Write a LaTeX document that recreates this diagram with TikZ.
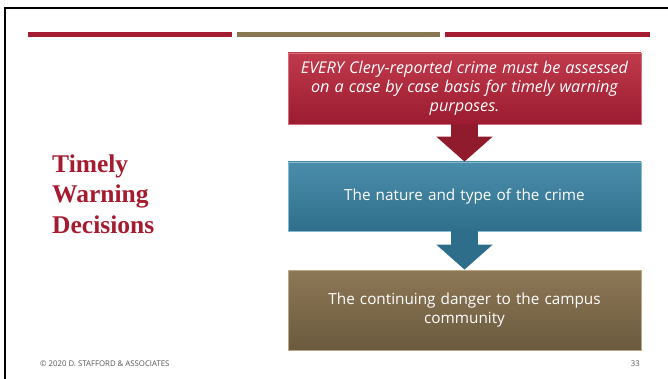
\documentclass[tikz,border=0pt]{standalone}
\usepackage{fontspec}
\setmainfont{Liberation Serif}
\setsansfont{Open Sans}
\usepackage{tikz}
\usetikzlibrary{arrows.meta, positioning}
\definecolor{BarRed}{HTML}{A51C30}
\definecolor{BarBrown}{HTML}{8B7653}
\definecolor{RedTop}{HTML}{BF3A4B}
\definecolor{RedBot}{HTML}{9C1B30}
\definecolor{RedEdge}{HTML}{D4707E}
\definecolor{BlueTop}{HTML}{4A8DAA}
\definecolor{BlueBot}{HTML}{2F6F8C}
\definecolor{BlueEdge}{HTML}{86B9CE}
\definecolor{BrownTop}{HTML}{8D7856}
\definecolor{BrownBot}{HTML}{6B5A3E}
\definecolor{BrownEdge}{HTML}{BBA886}
\definecolor{ArrowRed}{HTML}{8F1B2D}
\definecolor{ArrowBlue}{HTML}{2E6E8A}
\definecolor{FootGray}{HTML}{555555}

\begin{document}
\begin{tikzpicture}[x=1pt, y=-1pt,
  step_box/.style={rectangle, minimum width=353pt, inner sep=4pt, text width=345pt, align=center,
    text=white, font=\sffamily\fontsize{15.3}{19}\selectfont, line width=0.8pt},
  red_box/.style={step_box, top color=RedTop, bottom color=RedBot, draw=RedEdge},
  blue_box/.style={step_box, top color=BlueTop, bottom color=BlueBot, draw=BlueEdge},
  brown_box/.style={step_box, top color=BrownTop, bottom color=BrownBot, draw=BrownEdge},
  block_arrow/.style={line width=27pt, -{Triangle[width=55pt, length=25pt]}},
  foot_text/.style={font=\sffamily\fontsize{7.8}{9}\selectfont, text=FootGray, inner sep=0pt},
]
  \useasboundingbox (0,0) rectangle (668,379);
  \fill[white] (0,0) rectangle (668,379);
  \draw[line width=2pt, black] (4.5,379) -- (4.5,8) -- (668,8);
  \foreach \xa/\xb/\col in {28/232/BarRed, 237/440/BarBrown, 445/650/BarRed}
    \fill[\col] (\xa,32) rectangle (\xb,37.5);

  \node[font=\bfseries\fontsize{25.5}{30.5}\selectfont, text=BarRed, align=left, anchor=west, inner sep=0pt]
    (title) at (52,194) {Timely\\Warning\\Decisions};

  \node[red_box, minimum height=71pt] (every) at (464.5,88.5)
    {\fontsize{16.2}{19}\selectfont\itshape EVERY Clery-reported crime must be assessed\\on a case by case basis for timely warning\\purposes.};
  \node[blue_box, minimum height=69pt] (nature) at (464.5,196.5) {The nature and type of the crime};
  \node[brown_box, minimum height=80pt] (danger) at (464.5,310)
    {The continuing danger to the campus\\community};

  \draw[block_arrow, ArrowRed] (every.south) -- (nature.north);
  \draw[block_arrow, ArrowBlue] (nature.south) -- (danger.north);

  \node[foot_text, anchor=base west] (copy) at (40,366) {\textcopyright{} 2020 D. STAFFORD \& ASSOCIATES};
  \node[foot_text, anchor=base east] (page) at (640,366) {33};
\end{tikzpicture}
\end{document}
